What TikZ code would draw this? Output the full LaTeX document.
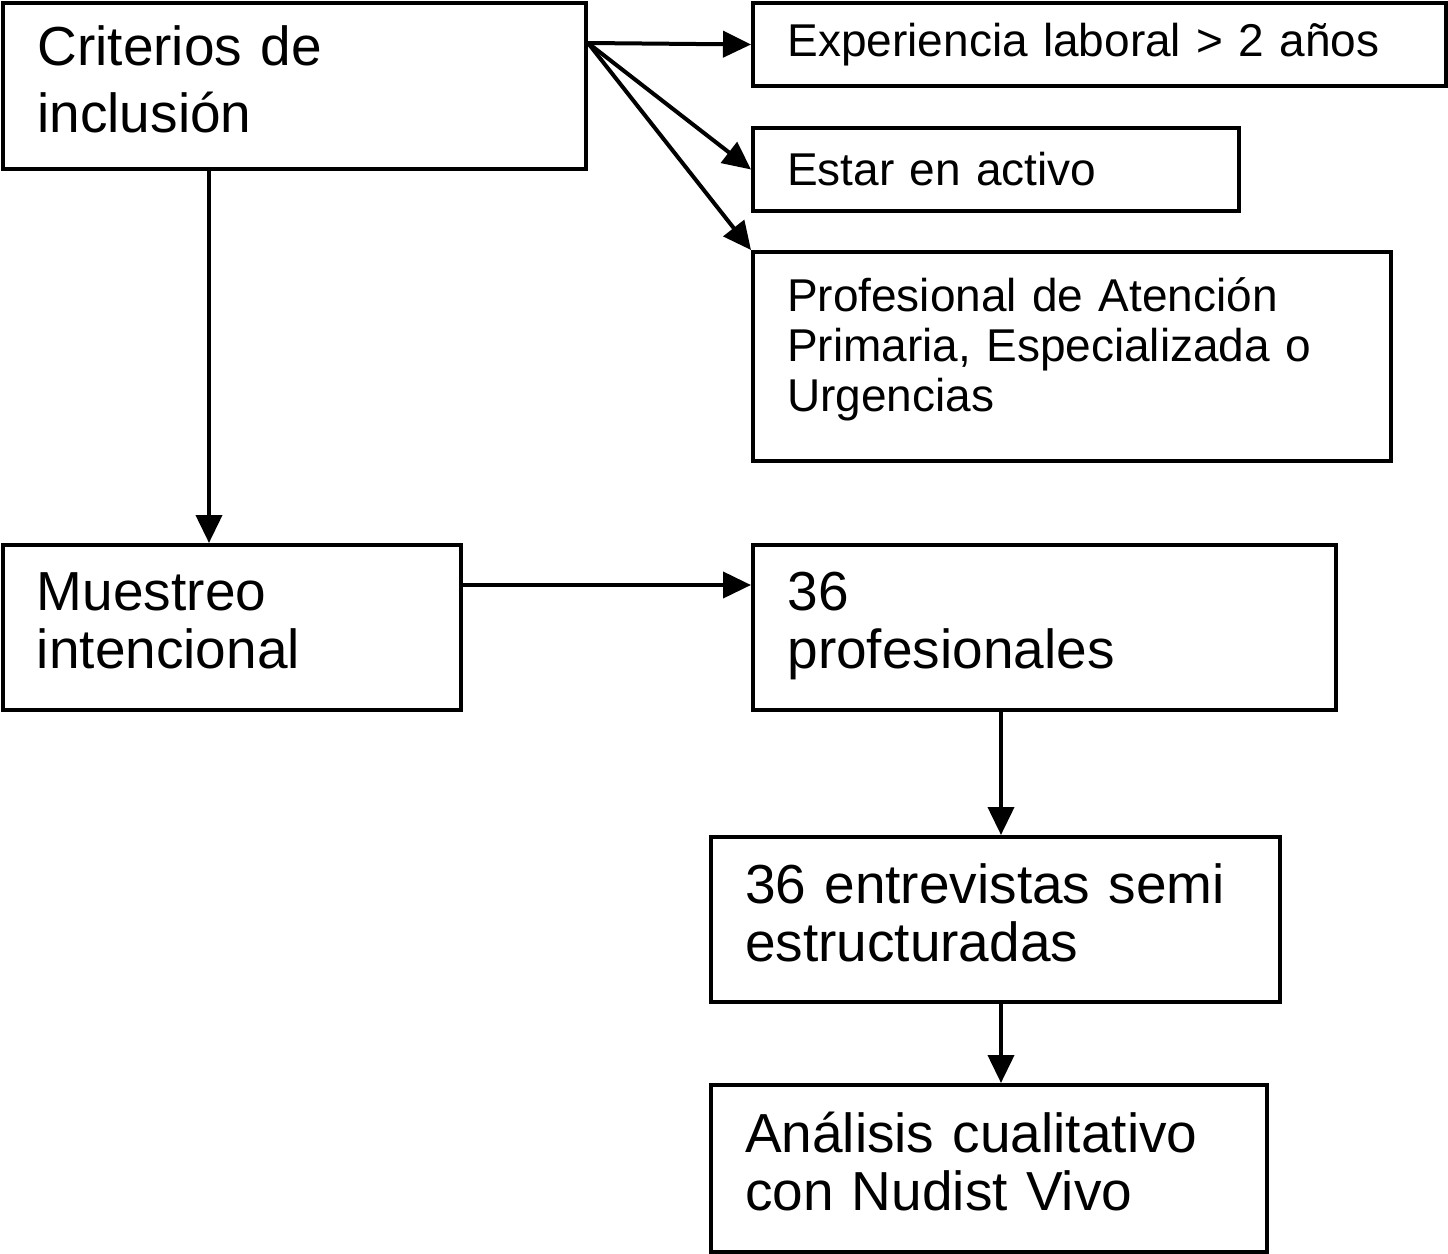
\documentclass[tikz,border=0pt]{standalone}
\usepackage{fontspec}
\setmainfont{Liberation Sans}
\usetikzlibrary{arrows.meta}
\begin{document}
\begin{tikzpicture}[x=0.5pt, y=-0.5pt,
  box/.style={draw, line width=2pt, anchor=north west, align=left, inner xsep=17pt, inner ysep=0pt},
  big/.style={font=\fontsize{27.5}{29}\selectfont, execute at end node={\rule[-7pt]{0pt}{7pt}}},
  small/.style={font=\fontsize{23}{25}\selectfont},
  arr/.style={line width=2pt, -{Triangle[length=14pt, width=13pt]}}]
\useasboundingbox (0,0) rectangle (1448,1254);
\node[box, big, font=\fontsize{27.5}{33.5}\selectfont, minimum width=291.5pt, minimum height=83pt, text width=257pt] (crit) at (1,1) {Criterios de\\inclusión};
\node[box, small, minimum width=346.5pt, minimum height=41.5pt, text width=312pt] (exp) at (751,1) {Experiencia laboral > 2 años};
\node[box, small, minimum width=243pt, minimum height=41.5pt, text width=209pt] (act) at (751,126) {Estar en activo};
\node[box, small, execute at end node={\rule[-12pt]{0pt}{12pt}}, minimum width=319pt, minimum height=104.5pt, text width=285pt] (prof) at (751,250) {Profesional de Atención\\Primaria, Especializada o\\Urgencias};
\node[box, big, minimum width=229pt, minimum height=82.5pt, text width=195pt] (mues) at (1,543) {Muestreo\\intencional};
\node[box, big, minimum width=291.5pt, minimum height=82.5pt, text width=257pt] (n36) at (751,543) {36\\profesionales};
\node[box, big, minimum width=284.5pt, minimum height=82.5pt, text width=250.5pt] (entr) at (709,835) {36 entrevistas semi\\estructuradas};
\node[box, big, minimum width=278pt, minimum height=83.5pt, text width=244pt] (anal) at (709,1083) {Análisis cualitativo\\con Nudist Vivo};
\coordinate (fork) at ([yshift=-21pt]crit.north east);
\draw[arr] (fork) -- (exp.west);
\draw[arr] (fork) -- (act.west);
\draw[arr] (fork) -- (prof.north west);
\draw[arr] ([xshift=104pt]crit.south west) -- ([xshift=104pt]mues.north west);
\draw[arr] ([yshift=-21pt]mues.north east) -- ([yshift=-21pt]n36.north west);
\draw[arr] ([xshift=125pt]n36.south west) -- ([xshift=125pt]n36.south west |- entr.north);
\draw[arr] ([xshift=146pt]entr.south west) -- ([xshift=146pt]entr.south west |- anal.north);
\end{tikzpicture}
\end{document}
